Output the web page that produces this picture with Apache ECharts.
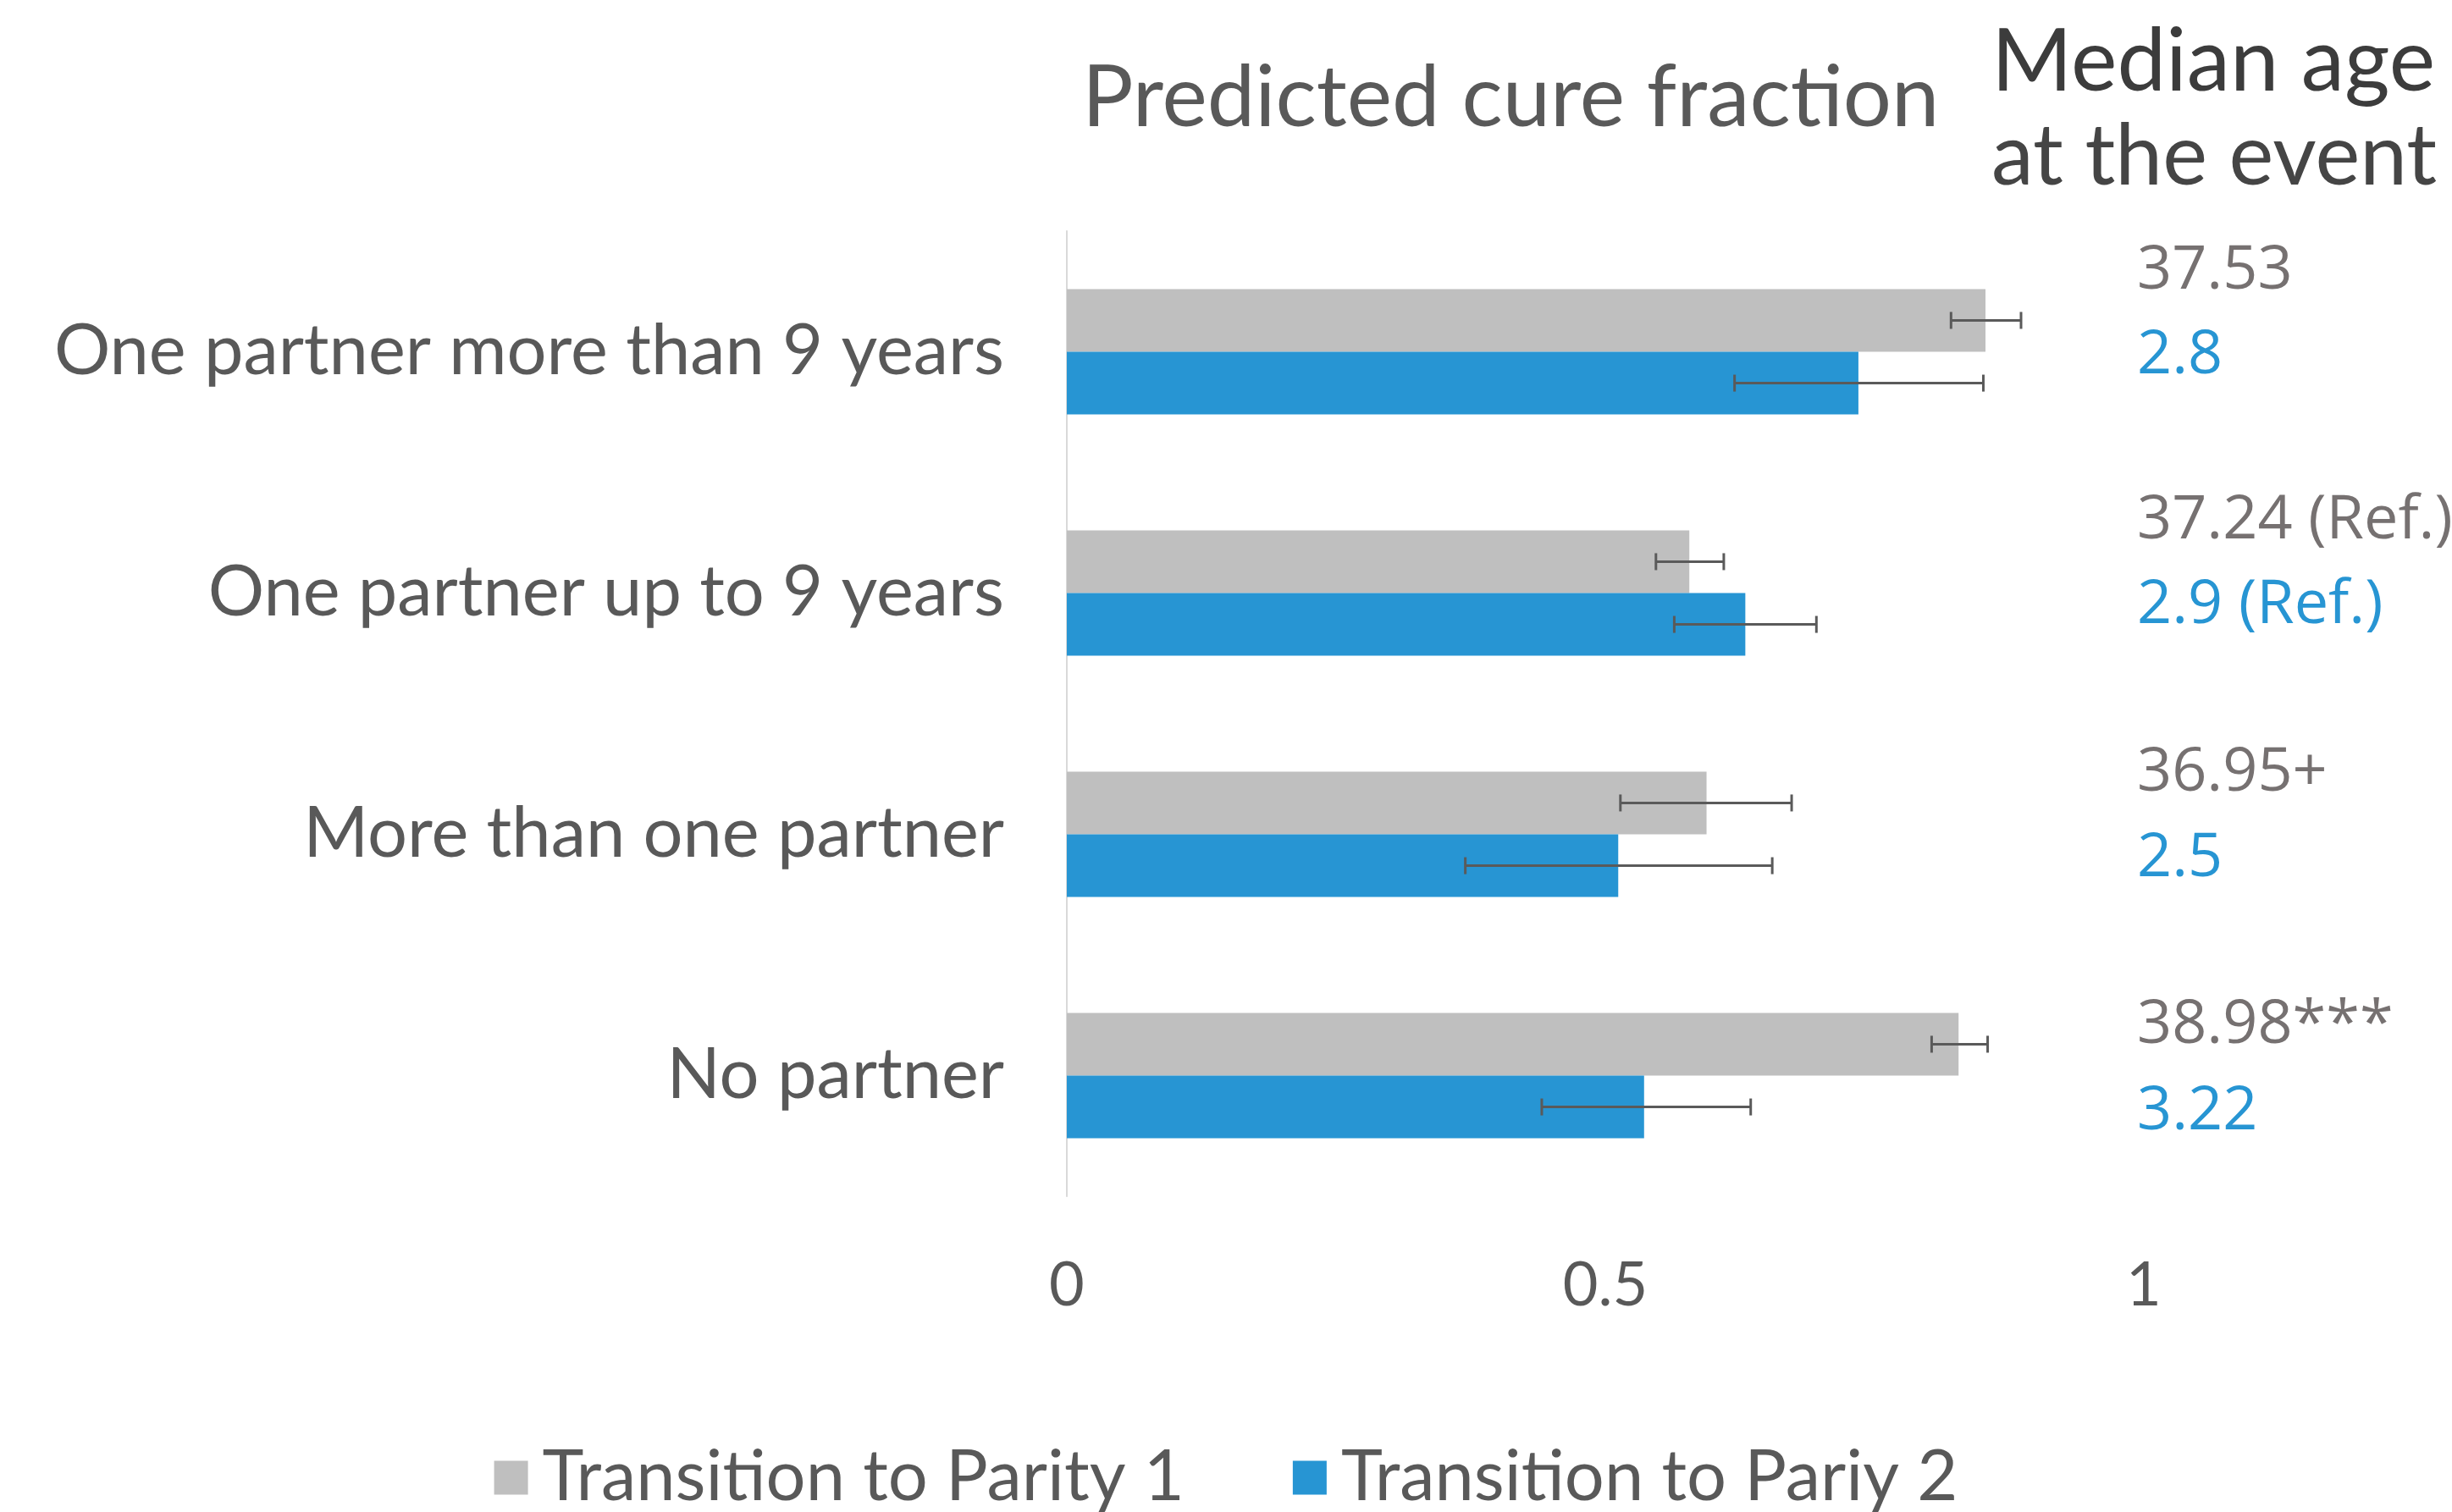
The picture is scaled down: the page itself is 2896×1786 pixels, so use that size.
<!DOCTYPE html>
<html>
<head>
<meta charset="utf-8">
<script src="https://cdn.jsdelivr.net/npm/echarts@6/dist/echarts.min.js"></script>
<style>
html,body{margin:0;padding:0;background:#fff;}
#chart{width:2896px;height:1786px;}
</style>
</head>
<body>
<div id="chart"></div>
<script>
// ---- data ----
const categories = ['One partner more than 9 years', 'One partner up to 9 years', 'More than one partner', 'No partner'];
const seriesNames = ['Transition to Parity 1', 'Transition to Pariy 2'];
const cureP1 = [0.853, 0.578, 0.594, 0.828];
const cureP2 = [0.735, 0.630, 0.512, 0.536];
const errLowP1 = [0.821, 0.547, 0.514, 0.803];
const errHighP1 = [0.886, 0.610, 0.673, 0.855];
const errLowP2 = [0.620, 0.564, 0.370, 0.441];
const errHighP2 = [0.851, 0.696, 0.655, 0.635];
const medianAgeP1 = ['37.53', '37.24 (Ref.)', '36.95+', '38.98***'];
const medianAgeP2 = ['2.8', '2.9 (Ref.)', '2.5', '3.22'];
const xTicks = [0, 0.5, 1];

const GRAY = '#bfbfbf', BLUE = '#2795d3', TXT = '#595959';
const FONT = 'Lato, "Open Sans", sans-serif';
const NUMFONT = '"Open Sans", "Noto Sans", sans-serif';

const chart = echarts.init(document.getElementById('chart'));

function errRender(sign) {
  return function (params, api) {
    const cat = api.value(0), lo = api.value(1), hi = api.value(2);
    const band = api.size([0, 1])[1];
    const a = api.coord([lo, cat]), b = api.coord([hi, cat]);
    const y = a[1] + sign * band * 0.13;
    const cap = 10;
    const st = { stroke: '#5a5a5a', lineWidth: 3 };
    return {
      type: 'group',
      children: [
        { type: 'line', shape: { x1: a[0], y1: y, x2: b[0], y2: y }, style: st },
        { type: 'line', shape: { x1: a[0], y1: y - cap, x2: a[0], y2: y + cap }, style: st },
        { type: 'line', shape: { x1: b[0], y1: y - cap, x2: b[0], y2: y + cap }, style: st }
      ]
    };
  };
}

const rowGrayY = [326, 621, 919, 1217];
const rowBlueY = [426, 721, 1020, 1319];
const graphics = [
  { type: 'text', left: 1278, top: 66, style: { text: 'Predicted cure fraction', font: '101px ' + FONT, fill: TXT } },
  { type: 'text', left: 2352, top: 22, style: { text: 'Median age', font: '103px ' + FONT, fill: '#3c3c3c' } },
  { type: 'text', left: 2352, top: 136, style: { text: 'at the event', font: '100px ' + FONT, fill: '#454545' } }
];
for (let i = 0; i < categories.length; i++) {
  graphics.push({ type: 'text', left: 2524, top: rowGrayY[i] - 42, style: { text: medianAgeP1[i], font: '72px ' + NUMFONT, fill: '#767171' } });
  graphics.push({ type: 'text', left: 2524, top: rowBlueY[i] - 42, style: { text: medianAgeP2[i], font: '72px ' + NUMFONT, fill: BLUE } });
}

chart.setOption({
  backgroundColor: '#ffffff',
  animation: false,
  grid: { left: 1260, right: 364, top: 273, bottom: 373, containLabel: false },
  legend: {
    bottom: -6, left: 'center',
    itemWidth: 40, itemHeight: 40, itemGap: 128,
    icon: 'rect',
    data: seriesNames,
    textStyle: { fontSize: 83, color: TXT, fontFamily: FONT, padding: [0, 0, 0, 12] }
  },
  xAxis: {
    type: 'value', min: 0, max: 1, interval: 0.5,
    axisLine: { show: false }, axisTick: { show: false }, splitLine: { show: false },
    axisLabel: { fontSize: 72, color: TXT, fontFamily: FONT, margin: 70,
      formatter: v => (xTicks.indexOf(v) >= 0 ? String(v) : '') }
  },
  yAxis: {
    type: 'category', data: categories, inverse: true,
    axisLine: { show: true, lineStyle: { color: '#d9d9d9', width: 2 } },
    axisTick: { show: false },
    axisLabel: { fontSize: 83, color: TXT, fontFamily: FONT, margin: 74 }
  },
  series: [
    { name: seriesNames[0], type: 'bar', data: cureP1, barWidth: '26%', barGap: '0%', itemStyle: { color: GRAY } },
    { name: seriesNames[1], type: 'bar', data: cureP2, barWidth: '26%', barGap: '0%', itemStyle: { color: BLUE } },
    { type: 'custom', renderItem: errRender(-1), encode: { x: [1, 2], y: 0 }, z: 5,
      data: categories.map((c, i) => [i, errLowP1[i], errHighP1[i]]), silent: true },
    { type: 'custom', renderItem: errRender(1), encode: { x: [1, 2], y: 0 }, z: 5,
      data: categories.map((c, i) => [i, errLowP2[i], errHighP2[i]]), silent: true }
  ],
  graphic: graphics
});
</script>
</body>
</html>
